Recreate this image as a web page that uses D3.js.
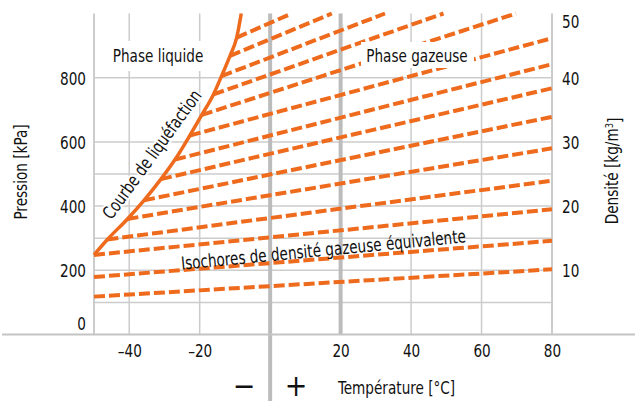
<!DOCTYPE html>
<html>
<head>
<meta charset="utf-8">
<script src="https://cdn.jsdelivr.net/npm/d3@7"></script>
<style>
  body { margin: 0; background: #fff; }
  svg text { font-family: "DejaVu Sans Condensed", "DejaVu Sans", sans-serif; fill: #111; }
</style>
</head>
<body>
<div id="chart"></div>
<script>
// ticks and grid
var tempTicks = [-40, -20, 20, 40, 60, 80];
var tempGrid = [-40, -20, 40, 60];
var tempBold = [0, 20];
var pressureTicks = [0, 200, 400, 600, 800];
var pressureGrid = [100, 200, 300, 400, 500, 600, 800];
var densityTicks = [10, 20, 30, 40, 50];

// liquefaction curve (temperature °C, pressure kPa)
var curveTemp = [-50, -46.2, -40.5, -35.8, -31, -27, -22.8, -19.4, -16.1, -13.8, -11.4, -9.5, -8.2];
var curvePressure = [248, 296, 360, 418, 484, 545, 620, 684, 748, 805, 868, 925, 1000];

// isochores, from start point to end point
var isoStartTemp = [-50, -50, -50, -46.2, -40.5, -35.8, -31, -27, -22.8, -19.4, -16.1, -13.8, -11.4, -9.5];
var isoStartPressure = [118, 179, 248, 296, 360, 418, 484, 545, 620, 684, 748, 805, 868, 925];
var isoEndTemp = [80, 80, 80, 80, 80, 80, 80, 80, 80, 69.8, 49.2, 32.6, 17.5, 6.1];
var isoEndPressure = [203, 292, 390, 479, 580, 678, 767, 842, 923, 1000, 1000, 1000, 1000, 1000];

var width = 635;
var height = 408;
var orange = "#ee6a1c";
var gridColor = "#cccccc";
var squeeze = 0.84;   // font is wider than the original condensed face

var x = d3.scaleLinear().domain([-50, 80]).range([94, 552]);
var y = d3.scaleLinear().domain([0, 1000]).range([334.5, 13.5]);
var yDens = d3.scaleLinear().domain([0, 50]).range([334.5, 13.5]);

var svg = d3.create("svg")
    .attr("width", width)
    .attr("height", height);
document.getElementById("chart").appendChild(svg.node());

// narrow the text so it looks like a condensed face
function condense(sel) {
    sel.each(function() {
        var len = this.getComputedTextLength();
        d3.select(this)
            .attr("textLength", len * squeeze)
            .attr("lengthAdjust", "spacingAndGlyphs");
    });
}

// grid
var grid = svg.append("g");
grid.selectAll("line.h")
    .data(pressureGrid)
    .join("line")
    .attr("x1", x(-50)).attr("x2", x(80))
    .attr("y1", d => y(d)).attr("y2", d => y(d))
    .attr("stroke", gridColor).attr("stroke-width", 1.5);
grid.append("g").selectAll("line")
    .data(tempGrid)
    .join("line")
    .attr("x1", d => x(d)).attr("x2", d => x(d))
    .attr("y1", y(1000)).attr("y2", y(0))
    .attr("stroke", gridColor).attr("stroke-width", 1.5);
// plot borders left and right
grid.append("g").selectAll("line")
    .data([-50, 80])
    .join("line")
    .attr("x1", d => x(d)).attr("x2", d => x(d))
    .attr("y1", y(1000)).attr("y2", y(0))
    .attr("stroke", gridColor).attr("stroke-width", 2);
// thick lines at 0 and 20 degrees
grid.append("g").selectAll("line")
    .data(tempBold)
    .join("line")
    .attr("x1", d => x(d)).attr("x2", d => x(d))
    .attr("y1", y(1000)).attr("y2", d => d === 0 ? 401 : y(0))
    .attr("stroke", "#bcbcbc").attr("stroke-width", 4);

// base line across the whole width
svg.append("line")
    .attr("x1", 2).attr("x2", width)
    .attr("y1", y(0)).attr("y2", y(0))
    .attr("stroke", "#c4c4c4").attr("stroke-width", 2);

// white box behind "Phase liquide"
svg.append("rect")
    .attr("x", 100).attr("y", 41).attr("width", 106).attr("height", 30)
    .attr("fill", "#fff");

// isochores
var isoData = isoStartTemp.map((t, i) => ({
    t0: t, p0: isoStartPressure[i], t1: isoEndTemp[i], p1: isoEndPressure[i]
}));
svg.append("g")
    .selectAll("line")
    .data(isoData)
    .join("line")
    .attr("x1", d => x(d.t0)).attr("y1", d => y(d.p0))
    .attr("x2", d => x(d.t1)).attr("y2", d => y(d.p1))
    .attr("stroke", orange)
    .attr("stroke-width", 4)
    .attr("stroke-dasharray", "11,4");

// liquefaction curve
var curveData = curveTemp.map((t, i) => [t, curvePressure[i]]);
svg.append("path")
    .datum(curveData)
    .attr("d", d3.line().x(d => x(d[0])).y(d => y(d[1])).curve(d3.curveMonotoneX))
    .attr("fill", "none")
    .attr("stroke", orange)
    .attr("stroke-width", 3.5);

// white box behind "Phase gazeuse"
svg.append("rect")
    .attr("x", 361).attr("y", 42).attr("width", 113).attr("height", 26)
    .attr("fill", "#fff");

// left axis
var leftAxis = svg.append("g")
    .attr("transform", `translate(${x(-50)},0)`)
    .call(d3.axisLeft(y).tickValues(pressureTicks).tickSize(0).tickPadding(8))
    .call(g => g.select(".domain").remove());
leftAxis.selectAll("text")
    .style("font-size", "18px")
    .attr("dy", d => d === 0 ? "-0.3em" : "0.35em")
    .call(condense);

// right axis
var rightAxis = svg.append("g")
    .attr("transform", `translate(${x(80)},0)`)
    .call(d3.axisRight(yDens).tickValues(densityTicks).tickSize(0).tickPadding(10))
    .call(g => g.select(".domain").remove());
rightAxis.selectAll("text")
    .style("font-size", "18px")
    .attr("dy", d => d === 50 ? "0.8em" : "0.35em")
    .call(condense);

// bottom axis
var bottomAxis = svg.append("g")
    .attr("transform", `translate(0,${y(0)})`)
    .call(d3.axisBottom(x).tickValues(tempTicks).tickSize(0).tickPadding(10)
        .tickFormat(d => d < 0 ? "\u2013" + Math.abs(d) : d))
    .call(g => g.select(".domain").remove());
bottomAxis.selectAll("text")
    .style("font-size", "18px")
    .call(condense);

// axis titles
svg.append("text")
    .attr("transform", "translate(27,172) rotate(-90)")
    .attr("text-anchor", "middle")
    .style("font-size", "18px")
    .text("Pression [kPa]")
    .call(condense);

var dens = svg.append("text")
    .attr("transform", "translate(618,171) rotate(-90)")
    .attr("text-anchor", "middle")
    .style("font-size", "18px");
dens.append("tspan").text("Densité [kg/m");
dens.append("tspan").attr("dy", "-0.45em").style("font-size", "11px").text("3");
dens.append("tspan").attr("dy", "0.45em").text("]");
dens.call(condense);

svg.append("text")
    .attr("x", 338).attr("y", 394)
    .style("font-size", "18px")
    .text("Température [°C]")
    .call(condense);

svg.append("text")
    .attr("x", x(0) - 26).attr("y", 396)
    .attr("text-anchor", "middle")
    .style("font-size", "30px")
    .style("font-weight", 200)
    .text("\u2212");
svg.append("text")
    .attr("x", x(0) + 26).attr("y", 396)
    .attr("text-anchor", "middle")
    .style("font-size", "30px")
    .style("font-weight", 200)
    .text("+");

// region labels
svg.append("text")
    .attr("x", 158).attr("y", 62)
    .attr("text-anchor", "middle")
    .style("font-size", "18px")
    .text("Phase liquide")
    .call(condense);

svg.append("text")
    .attr("x", 417).attr("y", 62)
    .attr("text-anchor", "middle")
    .style("font-size", "18px")
    .text("Phase gazeuse")
    .call(condense);

svg.append("text")
    .attr("transform", "translate(157,158) rotate(-54)")
    .attr("text-anchor", "middle")
    .style("font-size", "18px")
    .style("paint-order", "stroke")
    .attr("stroke", "#fff").attr("stroke-width", 4)
    .text("Courbe de liquéfaction")
    .call(condense);

svg.append("text")
    .attr("transform", "translate(324,256) rotate(-5.5)")
    .attr("text-anchor", "middle")
    .style("font-size", "18px")
    .text("Isochores de densité gazeuse équivalente")
    .call(condense);
</script>
</body>
</html>
